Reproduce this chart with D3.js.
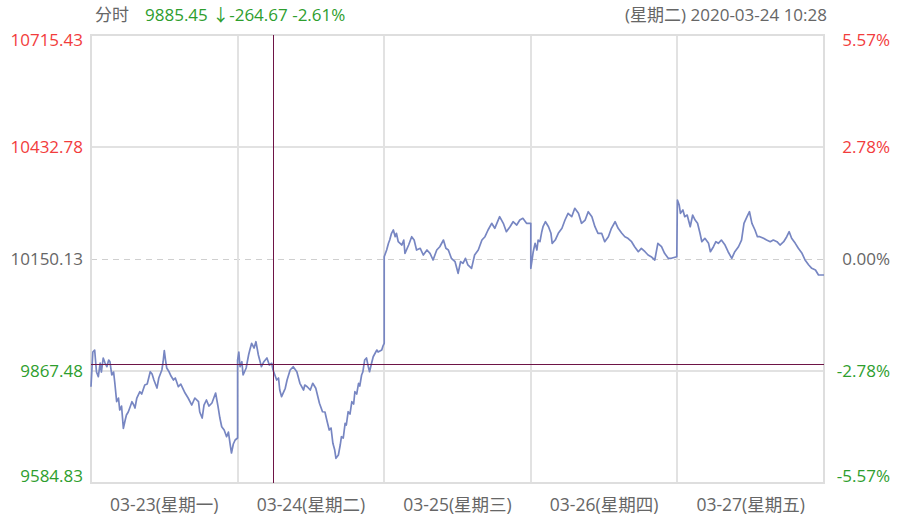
<!DOCTYPE html>
<html><head><meta charset="utf-8">
<script src="https://cdn.jsdelivr.net/npm/d3@7/dist/d3.min.js"></script>
<style>
html,body{margin:0;padding:0;background:#fff;}
svg{display:block;font-family:"Open Sans","Noto Sans CJK SC",sans-serif;}
</style></head>
<body><svg id="chart" width="902" height="532"></svg>
<script>
// ---- data ----
const prevClose = 10150.13;
const priceTicks = [10715.43, 10432.78, 10150.13, 9867.48, 9584.83];
const pctLabels = ["5.57%", "2.78%", "0.00%", "-2.78%", "-5.57%"];
const dayLabels = ["03-23(星期一)", "03-24(星期二)", "03-25(星期三)", "03-26(星期四)", "03-27(星期五)"];
const minutesPerDay = 240;
const hover = {day: 1, minute: 58, price: 9885.45, change: -264.67, pct: -2.61, label: "(星期二) 2020-03-24 10:28"};

// [minute, price] per day
const day1 = [[0,9827.8],[3,9915.4],[6,9920.4],[9,9864.9],[12,9853.1],[15,9887.6],[17,9864.9],[20,9900.3],[23,9887.6],[26,9878.3],[29,9895.2],[31,9890.9],[34,9857.4],[37,9864.9],[39,9837.2],[42,9790.0],[45,9799.3],[47,9769.0],[50,9779.1],[53,9722.8],[56,9743.8],[58,9756.4],[61,9764.0],[64,9776.6],[67,9790.0],[70,9781.6],[72,9774.1],[75,9799.3],[80,9815.2],[83,9809.4],[88,9832.1],[92,9834.6],[97,9865.7],[100,9859.9],[103,9844.7],[108,9824.5],[111,9849.8],[116,9870.0],[118,9890.2],[120,9918.7],[122,9895.2],[124,9875.0],[128,9864.9],[131,9854.8],[135,9844.7],[138,9849.8],[143,9827.8],[147,9834.6],[154,9811.9],[159,9799.3],[165,9781.6],[170,9799.3],[176,9790.0],[178,9764.0],[182,9748.8],[185,9781.6],[189,9794.3],[193,9779.1],[198,9786.7],[201,9799.3],[204,9811.9],[208,9777.4],[211,9748.8],[214,9726.9],[218,9718.5],[222,9701.6],[225,9713.5],[228,9680.7],[230,9660.5],[233,9683.2],[236,9693.3],[240,9698.4]];
const day2 = [[0,9895.2],[2,9915.4],[4,9878.3],[7,9890.9],[9,9857.4],[14,9875.0],[18,9907.8],[20,9920.4],[23,9937.4],[27,9925.5],[30,9941.4],[34,9907.8],[37,9890.2],[39,9878.3],[43,9890.9],[48,9900.3],[52,9882.6],[56,9886.9],[58,9870.0],[64,9844.7],[67,9849.8],[69,9819.5],[72,9802.6],[78,9823.8],[81,9844.7],[86,9870.0],[91,9878.3],[97,9865.7],[102,9836.4],[108,9819.5],[110,9832.1],[114,9827.8],[119,9819.5],[123,9836.4],[128,9823.8],[134,9785.9],[139,9764.7],[143,9764.0],[146,9743.8],[150,9718.5],[153,9723.6],[156,9685.0],[159,9668.1],[161,9647.1],[165,9655.5],[168,9680.7],[170,9701.6],[173,9698.4],[176,9735.5],[178,9731.2],[181,9764.7],[184,9758.9],[187,9790.0],[190,9784.2],[192,9815.2],[195,9809.4],[198,9836.4],[200,9829.6],[203,9857.4],[205,9864.9],[208,9895.2],[211,9900.3],[214,9878.3],[216,9865.7],[219,9885.1],[222,9903.5],[228,9920.4],[230,9915.4],[236,9920.4],[238,9930.5],[240,9937.4]];
const day3 = [[0,10155.9],[4,10172.8],[7,10189.7],[9,10198.0],[12,10215.0],[15,10223.3],[18,10206.4],[20,10215.0],[23,10193.8],[29,10185.4],[32,10198.0],[34,10164.5],[40,10185.4],[45,10206.4],[49,10198.0],[53,10172.8],[59,10177.1],[64,10160.2],[70,10172.8],[75,10164.5],[80,10147.6],[86,10172.8],[91,10181.1],[97,10198.0],[101,10177.1],[105,10172.8],[110,10151.9],[116,10143.3],[121,10114.0],[125,10143.3],[129,10139.2],[133,10151.9],[137,10135.0],[143,10126.6],[148,10160.2],[154,10172.8],[160,10198.0],[165,10206.4],[170,10223.3],[176,10240.2],[181,10227.6],[189,10256.9],[195,10240.2],[200,10219.0],[206,10231.6],[211,10244.2],[217,10235.9],[222,10248.5],[227,10252.8],[233,10240.2],[240,10240.2]];
const day4 = [[0,10126.6],[4,10168.5],[7,10189.7],[10,10172.8],[12,10198.0],[15,10193.8],[18,10219.0],[20,10231.6],[24,10244.2],[29,10231.6],[33,10215.0],[35,10189.7],[40,10198.0],[45,10215.0],[51,10227.6],[56,10248.5],[61,10265.4],[67,10256.9],[72,10278.1],[78,10265.4],[83,10240.2],[89,10248.5],[94,10269.5],[100,10256.9],[105,10231.6],[110,10215.0],[116,10215.0],[121,10193.8],[127,10206.4],[132,10227.6],[138,10244.2],[143,10227.6],[149,10215.0],[154,10206.4],[159,10202.3],[165,10193.8],[170,10181.1],[176,10168.5],[181,10177.1],[187,10168.5],[192,10160.2],[197,10155.9],[203,10147.6],[208,10189.7],[214,10181.1],[219,10164.5],[225,10151.9],[230,10151.9],[239,10155.9]];
const day5 = [[0,10299.0],[3,10286.4],[5,10265.4],[9,10273.8],[12,10256.9],[16,10261.1],[21,10231.6],[25,10261.1],[29,10248.5],[33,10240.2],[37,10215.0],[40,10193.8],[45,10202.3],[51,10189.7],[54,10168.5],[59,10181.1],[63,10193.8],[67,10189.7],[72,10198.0],[78,10185.4],[83,10168.5],[89,10151.9],[94,10168.5],[100,10181.1],[105,10198.0],[109,10240.2],[114,10256.9],[118,10269.5],[122,10240.2],[127,10223.3],[131,10206.4],[135,10206.4],[141,10202.3],[146,10198.0],[152,10193.8],[157,10198.0],[163,10193.8],[168,10185.4],[174,10193.8],[179,10206.4],[183,10219.0],[187,10202.3],[193,10189.7],[198,10177.1],[204,10164.5],[209,10147.6],[215,10135.0],[220,10126.6],[226,10122.3],[231,10109.7],[240,10109.7]];
const days = [day1, day2, day3, day4, day5];

// ---- layout ----
const svg = d3.select("#chart");
const L = 91, R = 824, T = 35, B = 483;
const RED = "#f23c3c", GREEN = "#2e9e2e", GRAY = "#666666";

const x = d3.scaleLinear().domain([0, days.length * minutesPerDay]).range([L, R]);
const y = d3.scaleLinear().domain([priceTicks[4], priceTicks[0]]).range([B, T]);

const series = [];
days.forEach((d, i) => d.forEach(([m, p]) => series.push({t: i * minutesPerDay + m, p})));

// grid
const g = svg.append("g");
priceTicks.forEach((v, i) => {
  if (i === 0 || i === 4) return;
  const yy = Math.round(y(v)) + (v === prevClose ? 0.5 : 0);
  g.append("line").attr("x1", L).attr("x2", R).attr("y1", yy).attr("y2", yy)
    .attr("stroke", v === prevClose ? "#cfcfcf" : "#e2e2e2").attr("stroke-width", v === prevClose ? 1 : 2)
    .attr("stroke-dasharray", v === prevClose ? "6,5" : null);
});
for (let i = 1; i < days.length; i++) {
  const xx = Math.round(x(i * minutesPerDay));
  g.append("line").attr("x1", xx).attr("x2", xx).attr("y1", T).attr("y2", B)
    .attr("stroke", "#e2e2e2").attr("stroke-width", 2);
}
g.append("rect").attr("x", L).attr("y", T).attr("width", R - L).attr("height", B - T)
  .attr("fill", "none").attr("stroke", "#dedede").attr("stroke-width", 2);

// line
svg.append("path").datum(series)
  .attr("d", d3.line().x(d => x(d.t)).y(d => y(d.p)))
  .attr("fill", "none").attr("stroke", "#7786c2").attr("stroke-width", 1.7).attr("stroke-linejoin", "round");

// crosshair
const hx = Math.round(x(hover.day * minutesPerDay + hover.minute)) + 0.5;
const hy = Math.round(y(hover.price)) + 0.5;
svg.append("line").attr("x1", hx).attr("x2", hx).attr("y1", T).attr("y2", B).attr("stroke", "#6e1446").attr("stroke-width", 1);
svg.append("line").attr("x1", L).attr("x2", R).attr("y1", hy).attr("y2", hy).attr("stroke", "#6e1446").attr("stroke-width", 1);

// axes labels
const colorFor = v => v > prevClose ? RED : (v < prevClose ? GREEN : GRAY);
const fs = 17;
priceTicks.forEach((v, i) => {
  let yy = y(v);
  if (i === 0) yy = T + 5; if (i === 4) yy = B - 7;
  svg.append("text").attr("x", 83).attr("y", yy).attr("dy", "0.35em").attr("text-anchor", "end")
    .attr("font-size", fs).attr("fill", colorFor(v)).text(v.toFixed(2));
  svg.append("text").attr("x", 890).attr("y", yy).attr("dy", "0.35em").attr("text-anchor", "end")
    .attr("font-size", fs).attr("fill", colorFor(v)).text(pctLabels[i]);
});
dayLabels.forEach((lab, i) => {
  svg.append("text").attr("x", x((i + 0.5) * minutesPerDay)).attr("y", 505).attr("dy", "0.35em")
    .attr("text-anchor", "middle").attr("font-size", 17.5).attr("fill", GRAY).text(lab);
});

// header
svg.append("text").attr("x", 95).attr("y", 15).attr("dy", "0.35em").attr("font-size", fs).attr("fill", GRAY).text("分时");
svg.append("text").attr("x", 145).attr("y", 15).attr("dy", "0.35em").attr("font-size", fs).attr("fill", GREEN)
  .text(`${hover.price.toFixed(2)} ↓${hover.change.toFixed(2)} ${hover.pct.toFixed(2)}%`);
svg.append("text").attr("x", 827).attr("y", 15).attr("dy", "0.35em").attr("text-anchor", "end")
  .attr("font-size", fs).attr("fill", GRAY).text(hover.label);
</script></body></html>
